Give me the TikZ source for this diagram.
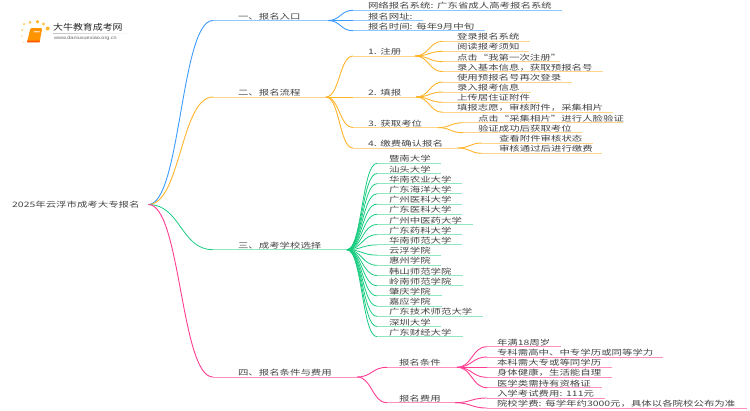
\documentclass[tikz,border=0pt]{standalone}
\usepackage{fontspec}
\setmainfont[FakeStretch=1.39]{Noto Sans CJK SC}
\newfontfamily\logofont[FakeStretch=1.18]{Noto Sans CJK SC}
\newfontfamily\urlfont[FakeStretch=1.2]{Liberation Sans}
\usetikzlibrary{calc}
\definecolor{bluec}{HTML}{3D9BFF}\definecolor{bluel}{HTML}{8CC8FF}
\definecolor{orac}{HTML}{FFB42A}\definecolor{oral}{HTML}{FFD58A}
\definecolor{grnc}{HTML}{17CC80}\definecolor{grnl}{HTML}{8FE6C0}
\definecolor{pnkc}{HTML}{FF3D92}\definecolor{pnkl}{HTML}{FF8FBE}
\definecolor{txt}{HTML}{444444}
\tikzset{
  item/.style={anchor=south west,inner sep=0pt,outer sep=0pt,text height=7pt,text depth=1.4pt,
    align=left,text=txt,font=\fontsize{7.5}{8}\selectfont},
  bluecurve/.style={draw=bluec,line width=.9pt},
  blueline/.style={draw=bluel,line width=1pt},
  oracurve/.style={draw=orac,line width=.9pt},
  oraline/.style={draw=oral,line width=1pt},
  grncurve/.style={draw=grnc,line width=.8pt},
  grnline/.style={draw=grnl,line width=1pt},
  pnkcurve/.style={draw=pnkc,line width=.9pt},
  pnkline/.style={draw=pnkl,line width=1pt},
}
% colour prefix, name, x0, x1, y, indent, text
\newcommand\itemnode[7]{%
  \pgfmathsetmacro{\itemw}{#4-#3}%
  \node[item,text width=\itemw pt] (#2) at (#3,#5) {\hspace*{#6pt}\mbox{#7}};
  \draw[#1line] (#2.south west) -- (#2.south east);}
\newcommand\conn[3]{%
  \draw[#1curve] (#2) .. controls ($(#2)!0.5!(#2 -| #3)$) and ($(#3)!0.5!(#3 -| #2)$) .. (#3);}
\begin{document}
\begin{tikzpicture}[x=1pt,y=-1pt]
\useasboundingbox (0,0) rectangle (750,410);
% logo
\foreach \px/\py/\c/\d in {24/24/FFD27A/2.5,30/22.3/FFC04D/3,37.5/21.7/FFB52E/3.6,43.5/24/FFC04D/3.4,47.7/28.5/FFB52E/4,22.3/30/FFD27A/2.2,21.7/36/FFE0A0/2,23.3/42.3/FFE0A0/1.6}{
  \definecolor{tmpc}{HTML}{\c}
  \fill[tmpc] (\px,\py) circle (\d/2);
}
\fill[rounded corners=1pt,fill=orange!85!yellow] (30.5,28.2) -- (42.2,28.2) -- (39.6,42.2) -- (27,42.2) -- cycle;
\fill[fill=orange!70!red] (27,40.6) -- (39.9,40.6) -- (39.6,42.4) -- (27,42.4) -- cycle;
\fill[fill=white!70!orange] (34,31) -- (39.8,31) -- (39.5,32.4) -- (33.7,32.4) -- cycle;
\shade[left color=black!25,right color=white] (53,33.4) rectangle (132,33.9);
\node[inner sep=0pt,anchor=west,text=black!85] (logotitle) at (53,27) {\logofont\fontsize{8.4}{9}\selectfont 大牛教育成考网};
\node[inner sep=0pt,anchor=west,text=black!60] (logourl) at (54,38.5) {\urlfont\fontsize{4.6}{5}\selectfont www.daniuxuexiao.org.cn};
% root
\node[anchor=west,inner sep=0pt,text=txt,font=\fontsize{7.5}{8}\selectfont,text width=136pt,align=left] (root) at (12,204.5) {2025年云浮市成考大专报名};
% branch 1
\itemnode{blue}{bA}{213}{328}{20.5}{25}{一、报名入口}
\itemnode{blue}{bAa}{353}{562}{10.3}{15}{网络报名系统: 广东省成人高考报名系统}
\itemnode{blue}{bAb}{353}{423}{20.5}{15}{报名网址:}
\itemnode{blue}{bAc}{353}{485}{30.7}{15}{报名时间: 每年9月中旬}
\conn{blue}{root.east}{bA.south west}
\conn{blue}{bA.south east}{bAa.south west}
\conn{blue}{bA.south east}{bAb.south west}
\conn{blue}{bA.south east}{bAc.south west}
% branch 2
\itemnode{ora}{bB}{213}{326}{97}{25}{二、报名流程}
\conn{ora}{root.east}{bB.south west}
\itemnode{ora}{sA}{353}{415}{56}{15}{1. 注册}
\itemnode{ora}{sB}{353}{416}{97}{15}{2. 填报}
\itemnode{ora}{sC}{353}{438}{127.6}{15}{3. 获取考位}
\itemnode{ora}{sD}{353}{458}{148}{15}{4. 缴费确认报名}
\conn{ora}{bB.south east}{sA.south west}
\conn{ora}{bB.south east}{sB.south west}
\conn{ora}{bB.south east}{sC.south west}
\conn{ora}{bB.south east}{sD.south west}
\itemnode{ora}{sAa}{443}{530}{41.3}{14}{登录报名系统}
\itemnode{ora}{sAb}{443}{529}{51.3}{14}{阅读报考须知}
\itemnode{ora}{sAc}{443}{560}{61.7}{14}{点击“我第一次注册”}
\itemnode{ora}{sAd}{443}{603}{71.7}{14}{录入基本信息，获取预报名号}
\conn{ora}{sA.south east}{sAa.south west}
\conn{ora}{sA.south east}{sAb.south west}
\conn{ora}{sA.south east}{sAc.south west}
\conn{ora}{sA.south east}{sAd.south west}
\itemnode{ora}{sBa}{443}{572}{82}{14}{使用预报名号再次登录}
\itemnode{ora}{sBb}{443}{531}{92}{14}{录入报考信息}
\itemnode{ora}{sBc}{443}{540}{102.3}{14}{上传居住证附件}
\itemnode{ora}{sBd}{443}{613}{112.3}{14}{填报志愿，审核附件，采集相片}
\conn{ora}{sB.south east}{sBa.south west}
\conn{ora}{sB.south east}{sBb.south west}
\conn{ora}{sB.south east}{sBc.south west}
\conn{ora}{sB.south east}{sBd.south west}
\itemnode{ora}{sCa}{463}{623}{122.7}{15}{点击“采集相片”进行人脸验证}
\itemnode{ora}{sCb}{463}{582}{132.7}{15}{验证成功后获取考位}
\conn{ora}{sC.south east}{sCa.south west}
\conn{ora}{sC.south east}{sCb.south west}
\itemnode{ora}{sDa}{482}{593}{143}{17}{查看附件审核状态}
\itemnode{ora}{sDb}{482}{602}{153.3}{17}{审核通过后进行缴费}
\conn{ora}{sD.south east}{sDa.south west}
\conn{ora}{sD.south east}{sDb.south west}
% branch 3
\itemnode{grn}{bC}{213}{347}{249.7}{25}{三、成考学校选择}
\conn{grn}{root.east}{bC.south west}
\foreach \n/\e/\t [count=\i from 0] in {
  a/441/暨南大学,b/441/汕头大学,c/462/华南农业大学,d/462/广东海洋大学,e/462/广州医科大学,
  f/462/广东医科大学,g/473/广州中医药大学,h/462/广东药科大学,i/462/华南师范大学,j/441/云浮学院,
  k/441/惠州学院,l/463/韩山师范学院,m/463/岭南师范学院,n/442/肇庆学院,o/442/嘉应学院,
  p/483/广东技术师范大学,q/441/深圳大学,r/463/广东财经大学}{
  \pgfmathsetmacro{\yy}{163.3+10.2*\i}
  \itemnode{grn}{u\n}{377}{\e}{\yy}{12}{\t}
  \conn{grn}{bC.south east}{u\n.south west}
}
% branch 4
\itemnode{pnk}{bD}{213}{357}{377}{25}{四、报名条件与费用}
\conn{pnk}{root.east}{bD.south west}
\itemnode{pnk}{tA}{387}{457}{367.3}{12}{报名条件}
\itemnode{pnk}{tB}{387}{455}{402.7}{12}{报名费用}
\conn{pnk}{bD.south east}{tA.south west}
\conn{pnk}{bD.south east}{tB.south west}
\itemnode{pnk}{tAa}{487}{561}{346.7}{10}{年满18周岁}
\itemnode{pnk}{tAb}{487}{663}{357}{10}{专科需高中、中专学历或同等学力}
\itemnode{pnk}{tAc}{487}{612}{367.3}{10}{本科需大专或等同学历}
\itemnode{pnk}{tAd}{487}{612}{377.3}{10}{身体健康，生活能自理}
\itemnode{pnk}{tAe}{487}{602}{387.7}{10}{医学类需持有资格证}
\conn{pnk}{tA.south east}{tAa.south west}
\conn{pnk}{tA.south east}{tAb.south west}
\conn{pnk}{tA.south east}{tAc.south west}
\conn{pnk}{tA.south east}{tAd.south west}
\conn{pnk}{tA.south east}{tAe.south west}
\itemnode{pnk}{tBa}{487}{605}{398}{10}{入学考试费用: 111元}
\itemnode{pnk}{tBb}{487}{747}{408}{10}{院校学费: 每学年约3000元，具体以各院校公布为准}
\conn{pnk}{tB.south east}{tBa.south west}
\conn{pnk}{tB.south east}{tBb.south west}
\end{tikzpicture}
\end{document}
